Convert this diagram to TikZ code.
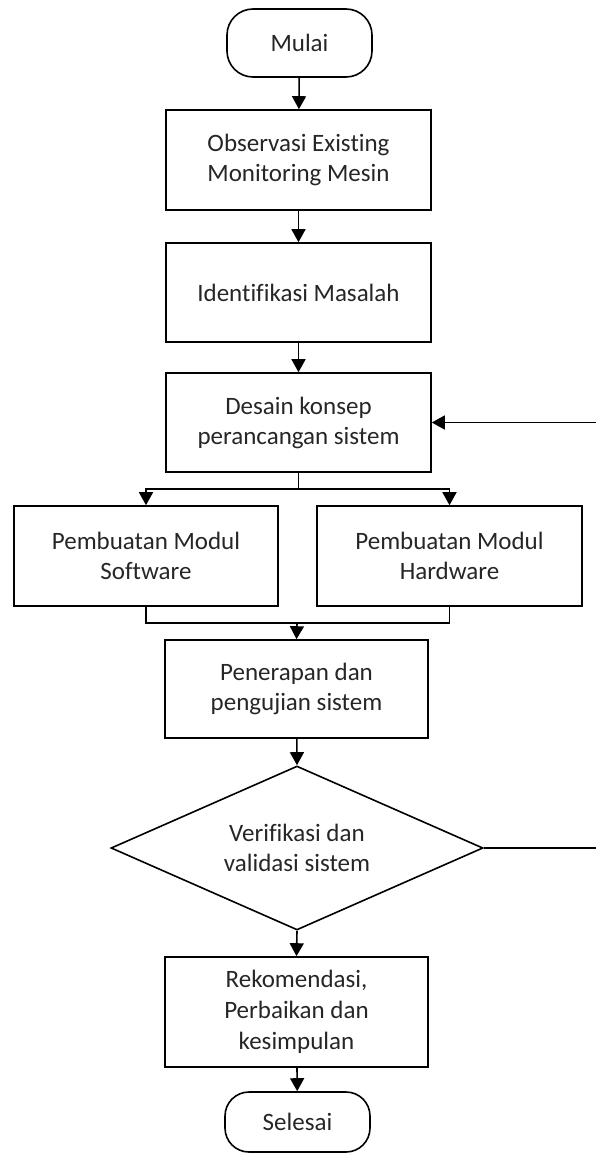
\documentclass[tikz,border=0pt]{standalone}
\usepackage{fontspec}
\setmainfont[Ligatures=NoCommon]{Carlito}
\usetikzlibrary{arrows.meta,shapes.geometric}
\begin{document}
\begin{tikzpicture}[x=1pt,y=-1pt,
  every node/.style={font=\fontsize{25}{30}\selectfont, align=center, text=black!85},
  box/.style={draw, line width=1.6pt, inner sep=0pt, minimum width=265pt, minimum height=99pt},
  term/.style={draw, line width=1.6pt, rounded corners=26pt, inner sep=0pt, minimum width=145pt, minimum height=68pt},
  dec/.style={draw, diamond, aspect=2.27, line width=1.6pt, inner sep=0pt, minimum width=372pt, minimum height=164pt},
  link/.style={line width=1.6pt},
  arr/.style={link, -{Triangle[length=13pt,width=14pt]}}]
\useasboundingbox (0,0) rectangle (596,1156);
\node[term] (mulai) at (299.5,43) {Mulai};
\node[box, minimum height=100pt] (obs) at (298.5,160) {Observasi Existing\\Monitoring Mesin};
\node[box] (ident) at (298.5,292.5) {Identifikasi Masalah};
\node[box] (desain) at (298.5,422.5) {Desain konsep\\perancangan sistem};
\node[box, minimum width=264pt, minimum height=100pt] (soft) at (146,556) {Pembuatan Modul\\Software};
\node[box, minimum height=100pt] (hard) at (449.5,556) {Pembuatan Modul\\Hardware};
\node[box, minimum width=263pt, minimum height=98pt] (pen) at (296.5,689) {Penerapan dan\\pengujian sistem};
\node[dec] (ver) at (297,848) {Verifikasi dan\\validasi sistem};
\node[box, minimum width=263pt, minimum height=110pt, font=\fontsize{25}{31}\selectfont] (rek) at (296.5,1012) {Rekomendasi,\\Perbaikan dan\\kesimpulan};
\node[term, minimum height=60pt, rounded corners=24pt] (selesai) at (297.5,1122) {Selesai};
\coordinate (split) at (298.5,489);
\coordinate (merge) at (297,623);
\coordinate (fbR) at (597,848);
\coordinate (fbT) at (597,422.5);
\draw[arr] (mulai) -- (obs);
\draw[arr] (obs) -- (ident);
\draw[arr] (ident) -- (desain);
\draw[link] (desain.south) -- (split);
\draw[arr] (split) -| (soft.north);
\draw[arr] (split) -| (hard.north);
\draw[link] (soft.south) |- (merge);
\draw[link] (hard.south) |- (merge);
\draw[arr] (merge) -- (pen.north);
\draw[arr] (pen) -- (ver.north);
\draw[arr] (ver.south) -- (rek.north);
\draw[arr] (rek) -- (selesai);
\draw[link] (ver.east) -- (fbR);
\draw[arr] (fbT) -- (desain.east);
\end{tikzpicture}
\end{document}
